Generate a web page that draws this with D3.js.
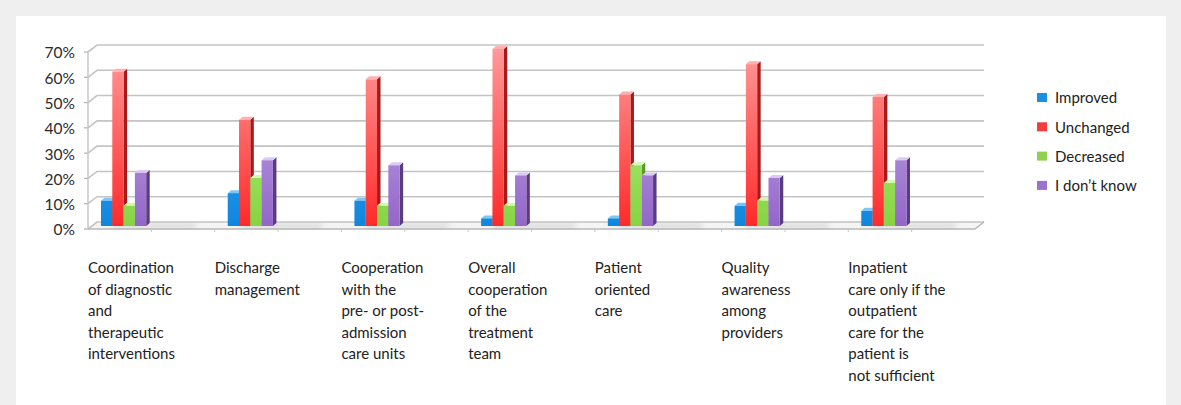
<!DOCTYPE html>
<html><head><meta charset="utf-8">
<script src="https://cdn.jsdelivr.net/npm/d3@7/dist/d3.min.js"></script>
<style>
html,body{margin:0;padding:0;background:#efefef;}
svg{display:block;}
text{font-family:Lato,"Open Sans",sans-serif;fill:#222;}
</style></head>
<body>
<svg id="chart" width="1181" height="405"></svg>
<script>
const categories = [
  ["Coordination","of diagnostic","and","therapeutic","interventions"],
  ["Discharge","management"],
  ["Cooperation","with the","pre- or post-","admission","care units"],
  ["Overall","cooperation","of the","treatment","team"],
  ["Patient","oriented","care"],
  ["Quality","awareness","among","providers"],
  ["Inpatient","care only if the","outpatient","care for the","patient is","not sufficient"]
];
const seriesNames = ["Improved","Unchanged","Decreased","I don\u2019t know"];
const improved  = [10, 13, 10, 3, 3, 8, 6];
const unchanged = [61, 42, 58, 70, 52, 64, 51];
const decreased = [8, 19, 8, 8, 24, 10, 17];
const dontKnow  = [21, 26, 24, 20, 20, 19, 26];
const yTicks = [0,10,20,30,40,50,60,70];
const tickLabels = ["0%","10%","20%","30%","40%","50%","60%","70%"];

const seriesValues = [improved, unchanged, decreased, dontKnow];
const colors = [
  {top:"#5ab4f4", bot:"#0f86de", side:"#0a5fa8", topFace:"#7cc6fa", legend:"#1a8fe3"},
  {top:"#ff9c9c", bot:"#ff2a2a", side:"#a81a1a", topFace:"#ffb0b0", legend:"#f23d3d"},
  {top:"#c6f494", bot:"#86d443", side:"#5a9a2a", topFace:"#d6f8b0", legend:"#8fd14f"},
  {top:"#cdb6f2", bot:"#9366c8", side:"#5a3b80", topFace:"#dccaf6", legend:"#9b72cc"}
];

const svg = d3.select("#chart");
const defs = svg.append("defs");
colors.forEach((c,i)=>{
  const g = defs.append("linearGradient").attr("id","g"+i)
    .attr("gradientUnits","userSpaceOnUse").attr("x1",0).attr("y1",45).attr("x2",0).attr("y2",226);
  g.append("stop").attr("offset","0%").attr("stop-color",c.top);
  g.append("stop").attr("offset","100%").attr("stop-color",c.bot);
});
const blur = defs.append("filter").attr("id","blur").attr("x","-50%").attr("y","-50%").attr("width","200%").attr("height","200%");
blur.append("feGaussianBlur").attr("stdDeviation",2.5);

// white panel
svg.append("rect").attr("x",16).attr("y",16).attr("width",1150).attr("height",400).attr("fill","#fff");

const left = 88, right = 975, dX = 9, dY = 7;
const y = d3.scaleLinear().domain([0,70]).range([229,52]);
const yBar = d3.scaleLinear().domain([0,70]).range([226,49]);
const x0 = d3.scaleBand().domain(d3.range(categories.length)).range([left,right]).paddingInner(0).paddingOuter(0);
const x1 = d3.scaleBand().domain(d3.range(seriesNames.length)).range([0,45.2]);
const clusterOffset = 13;
const bw = 11.3, bdx = 3.5, bdy = 3;

// floor
svg.append("path").attr("d",`M${left},${y(0)}L${right},${y(0)}L${right+dX},${y(0)-dY}L${left+dX},${y(0)-dY}Z`)
  .attr("fill","#f4f4f4");

// gridlines (back wall + left wall)
const grid = svg.append("g");
yTicks.forEach(t=>{
  const yy = y(t);
  grid.append("path").attr("d",`M${left},${yy}L${left+dX},${yy-dY}L${right+dX},${yy-dY}`)
    .attr("fill","none").attr("stroke","#c4c4c4").attr("stroke-width",1.6);
  grid.append("line").attr("x1",left-4).attr("x2",left).attr("y1",yy).attr("y2",yy)
    .attr("stroke","#b0b0b0").attr("stroke-width",1.2);
});
// left axis
svg.append("line").attr("x1",left).attr("x2",left).attr("y1",y(70)).attr("y2",y(0))
  .attr("stroke","#c4c4c4").attr("stroke-width",1.4);
// floor front and right edge
svg.append("path").attr("d",`M${left},${y(0)}L${right},${y(0)}L${right+dX},${y(0)-dY}`)
  .attr("fill","none").attr("stroke","#b8b8b8").attr("stroke-width",1.4);
// floor ticks
d3.range(1,14).forEach(k=>{
  const xx = left + k*(right-left)/14;
  svg.append("line").attr("x1",xx).attr("x2",xx).attr("y1",y(0)).attr("y2",y(0)+3)
    .attr("stroke","#c8c8c8").attr("stroke-width",1);
});

// y labels
svg.append("g").selectAll("text").data(yTicks).join("text")
  .attr("x",75).attr("y",d=>y(d)+1).attr("dy","0.35em").attr("text-anchor","end")
  .style("font-size","15.5px").style("fill","#2a2a2a").text((d,i)=>tickLabels[i]);

// bars
categories.forEach((cat,ci)=>{
  const gx = x0(ci) + clusterOffset;
  // floor shadow
  svg.append("path").attr("d",`M${gx+10},${yBar(0)+2}L${gx+92},${yBar(0)+2}L${gx+97},${yBar(0)-2}L${gx+14},${yBar(0)-2}Z`)
    .attr("fill","#a8a8a8").attr("opacity",0.4).attr("filter","url(#blur)");
  seriesValues.forEach((vals,si)=>{
    const v = vals[ci];
    const bx = gx + x1(si);
    const top = yBar(v), base = yBar(0);
    const c = colors[si];
    const g = svg.append("g");
    g.append("path").attr("d",`M${bx+bw},${top}L${bx+bw+bdx},${top-bdy}L${bx+bw+bdx},${base-bdy}L${bx+bw},${base}Z`)
      .attr("fill",c.side);
    g.append("path").attr("d",`M${bx},${top}L${bx+bdx},${top-bdy}L${bx+bw+bdx},${top-bdy}L${bx+bw},${top}Z`)
      .attr("fill",c.topFace);
    g.append("rect").attr("x",bx).attr("y",top).attr("width",bw).attr("height",base-top)
      .attr("fill","url(#g"+si+")");
  });
});

// category labels
categories.forEach((lines,ci)=>{
  const t = svg.append("text").attr("x",x0(ci)).attr("y",273).style("font-size","15px");
  lines.forEach((l,li)=>{
    t.append("tspan").attr("x",x0(ci)).attr("y",273+li*21.5).text(l);
  });
});

// legend
const lg = svg.append("g");
seriesNames.forEach((n,i)=>{
  const ly = 98 + i*29.3;
  lg.append("rect").attr("x",1037).attr("y",ly-5).attr("width",10).attr("height",9)
    .attr("fill",colors[i].legend);
  lg.append("text").attr("x",1055).attr("y",ly).attr("dy","0.35em").style("font-size","15px").text(n);
});
</script>
</body></html>
